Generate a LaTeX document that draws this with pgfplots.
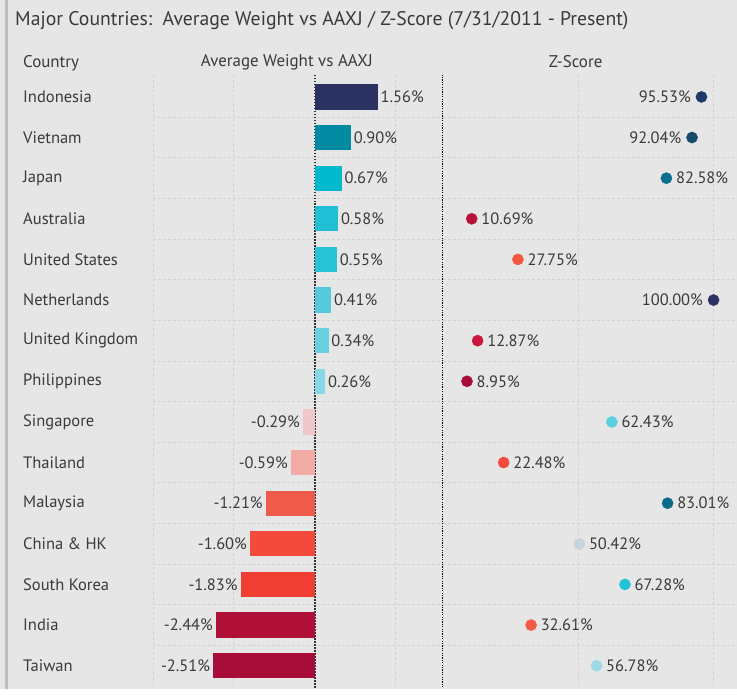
\documentclass[border=0pt]{standalone}
\usepackage{pgfplots}
\pgfplotsset{compat=1.18}
\usepackage{fontspec}
\setmainfont{PT Sans}
\definecolor{bgc}{HTML}{E6E6E6}
\definecolor{borderc}{HTML}{BDBDBD}
\definecolor{titlec}{HTML}{3A3A3A}
\definecolor{labelc}{HTML}{3A3A3A}
\definecolor{gridc}{HTML}{D2D2D2}
% bar colours
\definecolor{bA}{HTML}{2B3160}
\definecolor{bB}{HTML}{028AA2}
\definecolor{bC}{HTML}{00B9CF}
\definecolor{bD}{HTML}{20BFD3}
\definecolor{bE}{HTML}{27C2D5}
\definecolor{bF}{HTML}{55CADD}
\definecolor{bG}{HTML}{6AD0E0}
\definecolor{bH}{HTML}{86D8E6}
\definecolor{bI}{HTML}{EFC7C9}
\definecolor{bJ}{HTML}{F2AAA5}
\definecolor{bK}{HTML}{EF5B4B}
\definecolor{bL}{HTML}{F34A3C}
\definecolor{bM}{HTML}{F03E33}
\definecolor{bN}{HTML}{B01038}
\definecolor{bO}{HTML}{A80C38}
% dot colours
\definecolor{dA}{HTML}{1E3A6A}
\definecolor{dB}{HTML}{184A6E}
\definecolor{dC}{HTML}{0A7090}
\definecolor{dD}{HTML}{B81238}
\definecolor{dE}{HTML}{F2583E}
\definecolor{dF}{HTML}{2B3160}
\definecolor{dG}{HTML}{C8183C}
\definecolor{dH}{HTML}{A80C38}
\definecolor{dI}{HTML}{5CCEE0}
\definecolor{dJ}{HTML}{F24A3C}
\definecolor{dK}{HTML}{0A6A88}
\definecolor{dL}{HTML}{C5D3DC}
\definecolor{dM}{HTML}{22C3D6}
\definecolor{dN}{HTML}{F25A48}
\definecolor{dO}{HTML}{A0D9E6}
\pgfplotsset{
  rowaxis/.style={
    scale only axis, height=613.8bp,
    y dir=reverse, ymin=-0.55, ymax=14.55,
    ytick={0,...,14},
    minor ytick={0.5,1.5,...,13.5},
    yminorgrids,
    axis line style={draw=none},
    major tick length=0pt, minor tick length=0pt,
    minor grid style={densely dashed, gridc, line width=0.8bp},
    major grid style={densely dashed, gridc, line width=0.8bp},
    xticklabel=\empty,
    clip=false,
    nodes near coords style={font=\fontsize{16.5}{19}\selectfont, text=labelc},
  },
  wbarP/.style={xbar, bar width=0.62, bar shift=0pt, draw=none, fill=#1,
    nodes near coords, point meta=explicit symbolic,
    every node near coord/.append style={anchor=west, inner sep=2.5bp}},
  wbarN/.style={xbar, bar width=0.62, bar shift=0pt, draw=none, fill=#1,
    nodes near coords, point meta=explicit symbolic,
    every node near coord/.append style={anchor=east, inner sep=3bp}},
  zdotR/.style={only marks, mark=*, mark size=5.6bp, color=#1,
    mark options={draw=none, fill=#1},
    nodes near coords, point meta=explicit symbolic,
    every node near coord/.append style={anchor=west, inner sep=0pt, xshift=9.5bp, text=labelc}},
  zdotL/.style={only marks, mark=*, mark size=5.6bp, color=#1,
    mark options={draw=none, fill=#1},
    nodes near coords, point meta=explicit symbolic,
    every node near coord/.append style={anchor=east, inner sep=0pt, xshift=-10.5bp, text=labelc}},
}
\begin{document}
\begin{tikzpicture}
\fill[bgc] (0bp,0bp) rectangle (737bp,-689bp);
\fill[borderc] (5.5bp,0bp) rectangle (8bp,-689bp);
\node[anchor=west, inner sep=0pt, text=titlec, font=\fontsize{19.8}{23}\selectfont] at (15bp,-20.5bp)
  {Major Countries:\ \ Average Weight vs AAXJ / Z-Score (7/31/2011 - Present)};
\node[anchor=west, inner sep=0pt, text=labelc, font=\fontsize{17}{19}\selectfont] at (23bp,-63bp) {Country};
\node[inner sep=0pt, text=labelc, font=\fontsize{17}{19}\selectfont] at (287bp,-62bp) {Average Weight vs AAXJ};
\node[inner sep=0pt, text=labelc, font=\fontsize{17}{19}\selectfont] at (576bp,-62bp) {Z-Score};

% ---- Average weight vs AAXJ (horizontal bars)
\begin{axis}[rowaxis, at={(153bp,-74.6bp)}, anchor=north west, width=290bp,
  xmin=-4, xmax=3.16, xtick={-4,-2,2}, xmajorgrids,
  extra x ticks={0},
  extra x tick style={grid=major, major grid style={dash pattern=on 1.5bp off 1.5bp, black!80, line width=1.4bp}},
  yticklabels={Indonesia,Vietnam,Japan,Australia,United States,Netherlands,United Kingdom,Philippines,Singapore,Thailand,Malaysia,China \& HK,South Korea,India,Taiwan},
  yticklabel style={anchor=west, xshift=-130bp, inner sep=0pt, text=labelc, font=\fontsize{16.6}{19}\selectfont},
]
\addplot[wbarP=bA] coordinates {(1.56,0) [1.56\%]};
\addplot[wbarP=bB] coordinates {(0.90,1) [0.90\%]};
\addplot[wbarP=bC] coordinates {(0.67,2) [0.67\%]};
\addplot[wbarP=bD] coordinates {(0.58,3) [0.58\%]};
\addplot[wbarP=bE] coordinates {(0.55,4) [0.55\%]};
\addplot[wbarP=bF] coordinates {(0.41,5) [0.41\%]};
\addplot[wbarP=bG] coordinates {(0.34,6) [0.34\%]};
\addplot[wbarP=bH] coordinates {(0.26,7) [0.26\%]};
\addplot[wbarN=bI] coordinates {(-0.29,8) [-0.29\%]};
\addplot[wbarN=bJ] coordinates {(-0.59,9) [-0.59\%]};
\addplot[wbarN=bK] coordinates {(-1.21,10) [-1.21\%]};
\addplot[wbarN=bL] coordinates {(-1.60,11) [-1.60\%]};
\addplot[wbarN=bM] coordinates {(-1.83,12) [-1.83\%]};
\addplot[wbarN=bN] coordinates {(-2.44,13) [-2.44\%]};
\addplot[wbarN=bO] coordinates {(-2.51,14) [-2.51\%]};
\end{axis}

% ---- Z-Score (dots)
\begin{axis}[rowaxis, at={(443bp,-74.6bp)}, anchor=north west, width=294bp,
  xmin=0, xmax=108.5, xtick={50,100}, xmajorgrids,
  yticklabel=\empty,
  extra x ticks={0},
  extra x tick style={grid=major, major grid style={dash pattern=on 1.2bp off 1.2bp, black, line width=0.9bp}},
]
\addplot[zdotL=dA] coordinates {(95.53,0) [95.53\%]};
\addplot[zdotL=dB] coordinates {(92.04,1) [92.04\%]};
\addplot[zdotR=dC] coordinates {(82.58,2) [82.58\%]};
\addplot[zdotR=dD] coordinates {(10.69,3) [10.69\%]};
\addplot[zdotR=dE] coordinates {(27.75,4) [27.75\%]};
\addplot[zdotL=dF] coordinates {(100.00,5) [100.00\%]};
\addplot[zdotR=dG] coordinates {(12.87,6) [12.87\%]};
\addplot[zdotR=dH] coordinates {(8.95,7) [8.95\%]};
\addplot[zdotR=dI] coordinates {(62.43,8) [62.43\%]};
\addplot[zdotR=dJ] coordinates {(22.48,9) [22.48\%]};
\addplot[zdotR=dK] coordinates {(83.01,10) [83.01\%]};
\addplot[zdotR=dL] coordinates {(50.42,11) [50.42\%]};
\addplot[zdotR=dM] coordinates {(67.28,12) [67.28\%]};
\addplot[zdotR=dN] coordinates {(32.61,13) [32.61\%]};
\addplot[zdotR=dO] coordinates {(56.78,14) [56.78\%]};
\end{axis}
\end{tikzpicture}
\end{document}
